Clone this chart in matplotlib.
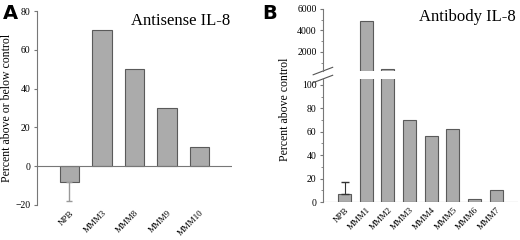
import matplotlib.pyplot as plt
import numpy as np

# Panel A: antisense IL-8
a_labels = ["NPB", "MMM3", "MMM8", "MMM9", "MMM10"]
a_values = [-8, 70, 50, 30, 10]
a_err_low = [10, 0, 0, 0, 0]

# Panel B: antibody IL-8
b_labels = ["NPB", "MMM1", "MMM2", "MMM3", "MMM4", "MMM5", "MMM6", "MMM7"]
b_values = [7, 4900, 420, 70, 56, 62, 3, 10]
b_err_high = [10, 0, 0, 0, 0, 0, 0, 0]

bar_color = "#ababab"
edge_color = "#5a5a5a"
serif = "Liberation Serif"

fig = plt.figure(figsize=(5.2, 2.4), dpi=100)


def style_axis(ax):
    for s in ["top", "right", "bottom"]:
        ax.spines[s].set_visible(False)
    ax.spines["left"].set_color("#777777")
    ax.tick_params(axis="y", which="both", direction="out", color="#777777",
                   labelsize=7, pad=2)
    ax.tick_params(axis="y", which="major", length=2.5)
    ax.tick_params(axis="y", which="minor", length=1.5)
    for lab in ax.get_yticklabels():
        lab.set_fontfamily(serif)


# ---- Panel A ----
axA = fig.add_axes([0.071, 0.146, 0.375, 0.808])
xa = np.arange(len(a_labels))
axA.bar(xa, a_values, width=0.6, color=bar_color, edgecolor=edge_color, linewidth=0.8)
axA.errorbar(xa[:1], a_values[:1], yerr=[a_err_low[:1], [0]], fmt="none",
             ecolor="#999999", elinewidth=1, capsize=2)
axA.axhline(0, color="#777777", linewidth=0.8)
axA.set_xlim(-1, 5)
axA.set_ylim(-20, 80)
axA.set_yticks([-20, 0, 20, 40, 60, 80])
axA.set_xticks(xa)
axA.set_xticklabels(a_labels, rotation=45, ha="right", rotation_mode="anchor",
                    fontsize=6.5, family=serif)
axA.tick_params(axis="x", length=0, pad=3)
style_axis(axA)
axA.set_ylabel("Percent above or below control", family=serif, fontsize=8.5, labelpad=2)
axA.text(0.99, 0.99, "Antisense IL-8", transform=axA.transAxes, ha="right", va="top",
         family=serif, fontsize=12)
fig.text(0.005, 0.985, "A", fontsize=14, fontweight="bold", va="top", ha="left")

# ---- Panel B (broken axis) ----
xb = np.arange(len(b_labels))
axBt = fig.add_axes([0.621, 0.704, 0.375, 0.259])
axBb = fig.add_axes([0.621, 0.158, 0.375, 0.513])
for ax in (axBt, axBb):
    ax.bar(xb, b_values, width=0.6, color=bar_color, edgecolor=edge_color, linewidth=0.8)
    ax.set_xlim(-1, 8)
    ax.patch.set_visible(False)

axBt.set_ylim(230, 6000)
axBt.set_yticks([2000, 4000, 6000])
axBt.set_yticks([1000, 3000, 5000], minor=True)
axBt.set_xticks([])
style_axis(axBt)

axBb.set_ylim(0, 105)
axBb.set_yticks([0, 20, 40, 60, 80, 100])
axBb.set_yticks([10, 30, 50, 70, 90], minor=True)
axBb.errorbar(xb[:1], b_values[:1], yerr=[[0], b_err_high[:1]], fmt="none",
              ecolor="#333333", elinewidth=0.8, capsize=3)
axBb.axhline(0, color="#777777", linewidth=0.8)
axBb.set_xticks(xb)
axBb.set_xticklabels(b_labels, rotation=45, ha="right", rotation_mode="anchor",
                     fontsize=6.5, family=serif)
axBb.tick_params(axis="x", length=0, pad=3)
style_axis(axBb)
axBb.set_ylabel("Percent above control", family=serif, fontsize=8.5, labelpad=8, y=0.75)

# break marks on the left spine
for ax, yy in ((axBt, 0.0), (axBb, 1.0)):
    kw = dict(transform=ax.transAxes, color="#555555", clip_on=False, linewidth=0.8)
    dy = 0.06 if ax is axBt else 0.03
    ax.plot([-0.05, 0.05], [yy - dy, yy + dy], **kw)

axBt.text(0.99, 1.0, "Antibody IL-8", transform=axBt.transAxes, ha="right", va="top",
          family=serif, fontsize=12)
fig.text(0.505, 0.985, "B", fontsize=14, fontweight="bold", va="top", ha="left")

fig.savefig("out.png", dpi=100)
